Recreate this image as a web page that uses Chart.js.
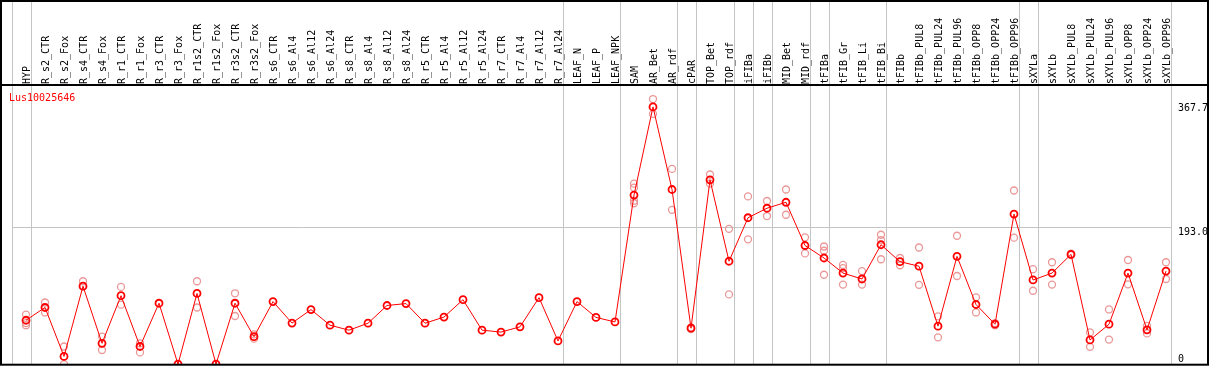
<!DOCTYPE html>
<html>
<head>
<meta charset="utf-8">
<script src="https://cdn.jsdelivr.net/npm/chart.js@4/dist/chart.umd.min.js"></script>
<style>
  html, body { margin: 0; padding: 0; background: #fff; }
  #wrap { width: 1209px; height: 370px; }
</style>
</head>
<body>
<div id="wrap"><canvas id="chart" width="1209" height="370"></canvas></div>
<script>
// sample names, one column each
const categories = [
  "HYP", "R_s2_CTR", "R_s2_Fox", "R_s4_CTR", "R_s4_Fox", "R_r1_CTR", "R_r1_Fox",
  "R_r3_CTR", "R_r3_Fox", "R_r1s2_CTR", "R_r1s2_Fox", "R_r3s2_CTR", "R_r3s2_Fox",
  "R_s6_CTR", "R_s6_Al4", "R_s6_Al12", "R_s6_Al24", "R_s8_CTR", "R_s8_Al4", "R_s8_Al12",
  "R_s8_Al24", "R_r5_CTR", "R_r5_Al4", "R_r5_Al12", "R_r5_Al24", "R_r7_CTR", "R_r7_Al4",
  "R_r7_Al12", "R_r7_Al24", "LEAF_N", "LEAF_P", "LEAF_NPK", "SAM", "AR_Bet", "AR_rdf",
  "cPAR", "TOP_Bet", "TOP_rdf", "iFIBa", "iFIBb", "MID_Bet", "MID_rdf", "tFIBa",
  "tFIB_Gr", "tFIB_Li", "tFIB_Bi", "tFIBb", "tFIBb_PUL8", "tFIBb_PUL24", "tFIBb_PUL96",
  "tFIBb_OPP8", "tFIBb_OPP24", "tFIBb_OPP96", "sXYLa", "sXYLb", "sXYLb_PUL8",
  "sXYLb_PUL24", "sXYLb_PUL96", "sXYLb_OPP8", "sXYLb_OPP24", "sXYLb_OPP96"
];

// mean expression per sample
const meanValues = [
  62, 80, 11, 110, 29.5, 96.6, 25, 86, 0, 99.8, 0, 86, 38.8,
  88.3, 58, 77, 55, 48, 57.8, 82.8, 85.5, 57.8, 66.5, 91, 48, 45.3, 52.7, 93.9, 32.8,
  88.3, 66, 59.6, 238.5, 362.9, 246.4, 50.8, 260, 145.2, 206.6, 220, 228.4, 167.4,
  149.8, 128.5, 120.2, 168.5, 144.6, 138.2, 53.7, 152.1, 84.2, 56.4, 211.7,
  118.8, 128.5, 154.9, 34.2, 56.4, 128.5, 48.5, 131.3
];

// replicate values (null = no replicate shown)
const rep1 = [
  70, 87, 25, 117, 39, 109, 29.5, null, null, 117, null, 100, 42,
  null, null, null, null, null, null, null, null, null, null, null, null, null, null, null, null,
  null, null, null, 254.7, 374, 275.5, 52, 267.6, 190.9, 236.7, 230.2, 246.4, 178.9,
  166, 140, 131.3, 182.6, 149.8, 164.6, 67.5, 181.2, 94.3, 58, 245,
  134, 143.8, 156, 44.8, 77.2, 147, 54, 143.8
];
const rep2 = [
  55, 73, 0, 110, 20, 84, 16.6, null, null, 80, null, 68, 36,
  null, null, null, null, null, null, null, null, null, null, null, null, null, null, null, null,
  null, null, null, 227, 353, 217.7, 49.5, 254.7, 98.4, 176.1, 209, 210.8, 156.3,
  126.2, 112.3, 112.3, 148, 139.6, 111.9, 37.9, 124.4, 73, 55, 178.5,
  103.6, 112.3, 154, 24.5, 34.7, 112.7, 43.4, 120.2
];
const rep3 = [
  58, null, null, null, null, null, null, null, null, null, null, null, null,
  null, null, null, null, null, null, null, null, null, null, null, null, null, null, null, null,
  null, null, null, 249, null, null, null, null, null, null, null, null, null,
  160, 135.5, null, 175.1, null, null, null, null, null, null, null,
  null, null, null, null, null, null, null, null
];
const rep4 = [
  null, null, null, null, null, null, null, null, null, null, null, null, null,
  null, null, null, null, null, null, null, null, null, null, null, null, null, null, null, null,
  null, null, null, 230.6, null, null, null, null, null, null, null, null, null,
  null, null, null, null, null, null, null, null, null, null, null,
  null, null, null, null, null, null, null, null
];

const yTicks = [0, 193.0, 367.7];
const yTickLabels = ["0", "193.0", "367.7"];
const yMax = 392.4;
// last column index of each tissue group (gray separators)
const groupEnds = [-1, 0, 28, 31, 34, 35, 37, 38, 39, 41, 42, 45, 52, 53, 60];
const geneName = "Lus10025646";

const MONO = '10px "DejaVu Sans Mono", "Liberation Mono", monospace';
const REP_COLOR = "rgba(232, 140, 140, 0.9)";

const repDataset = (data) => ({
  data: data,
  showLine: false,
  borderColor: REP_COLOR,
  backgroundColor: "rgba(0,0,0,0)",
  pointRadius: 3.5,
  pointBorderWidth: 1.3,
  pointBorderColor: REP_COLOR,
  pointBackgroundColor: "rgba(0,0,0,0)",
  order: 2,
});

const framePlugin = {
  id: "frame",
  beforeDraw(chart) {
    const ctx = chart.ctx;
    ctx.save();
    ctx.fillStyle = "#fff";
    ctx.fillRect(0, 0, chart.width, chart.height);
    ctx.restore();
  },
  beforeDatasetsDraw(chart) {
    const ctx = chart.ctx;
    const x = chart.scales.x;
    const y = chart.scales.y;
    const area = chart.chartArea;
    const step = x.getPixelForValue(1) - x.getPixelForValue(0);
    ctx.save();
    ctx.strokeStyle = "#c4c4c4";
    ctx.lineWidth = 1;
    // group separators, full height
    groupEnds.forEach((end) => {
      const px = Math.round(x.getPixelForValue(0) + (end + 1) * step - 14.5) + 0.5;
      ctx.beginPath();
      ctx.moveTo(px, 0);
      ctx.lineTo(px, area.bottom);
      ctx.stroke();
    });
    // middle gridline
    const left = Math.round(x.getPixelForValue(0) - 14.5) + 0.5;
    const right = Math.round(x.getPixelForValue(60) + step - 14.5) + 0.5;
    const gy = Math.round(y.getPixelForValue(yTicks[1])) + 0.5;
    ctx.beginPath();
    ctx.moveTo(left, gy);
    ctx.lineTo(right, gy);
    ctx.stroke();
    ctx.restore();
  },
  afterDraw(chart) {
    const ctx = chart.ctx;
    const x = chart.scales.x;
    const y = chart.scales.y;
    const area = chart.chartArea;
    ctx.save();
    // rotated sample labels
    ctx.fillStyle = "#000";
    ctx.font = MONO;
    ctx.textAlign = "left";
    ctx.textBaseline = "middle";
    categories.forEach((name, i) => {
      ctx.save();
      ctx.translate(Math.round(x.getPixelForValue(i)) + 1, 84);
      ctx.rotate(-Math.PI / 2);
      ctx.fillText(name, 0, 0);
      ctx.restore();
    });
    // y labels on the right
    ctx.textBaseline = "top";
    yTicks.forEach((v, i) => {
      let py = y.getPixelForValue(v);
      if (py > area.bottom - 10) py = area.bottom - 10;
      ctx.fillText(yTickLabels[i], 1178, py);
    });
    // gene name
    ctx.fillStyle = "#ff0000";
    ctx.fillText(geneName, 9, 93);
    // black frame
    ctx.strokeStyle = "#000";
    ctx.lineWidth = 2;
    ctx.strokeRect(1, 1, chart.width - 2, area.bottom - 0.5);
    ctx.beginPath();
    ctx.moveTo(0, 85);
    ctx.lineTo(chart.width, 85);
    ctx.stroke();
    ctx.restore();
  },
};

new Chart(document.getElementById("chart"), {
  type: "line",
  data: {
    labels: categories,
    datasets: [
      {
        data: meanValues,
        borderColor: "#ff0000",
        borderWidth: 1,
        backgroundColor: "rgba(0,0,0,0)",
        pointRadius: 3.5,
        pointBorderWidth: 1.8,
        pointBorderColor: "#ff0000",
        pointBackgroundColor: "rgba(0,0,0,0)",
        tension: 0,
        order: 1,
      },
      repDataset(rep1),
      repDataset(rep2),
      repDataset(rep3),
      repDataset(rep4),
    ],
  },
  options: {
    responsive: false,
    animation: false,
    devicePixelRatio: 1,
    layout: { padding: { left: 16.5, right: 33.5, top: 86, bottom: 2 } },
    plugins: { legend: { display: false }, tooltip: { enabled: false } },
    scales: {
      x: { type: "category", offset: true, display: false },
      y: { min: 0, max: yMax, display: false },
    },
  },
  plugins: [framePlugin],
});
</script>
</body>
</html>
